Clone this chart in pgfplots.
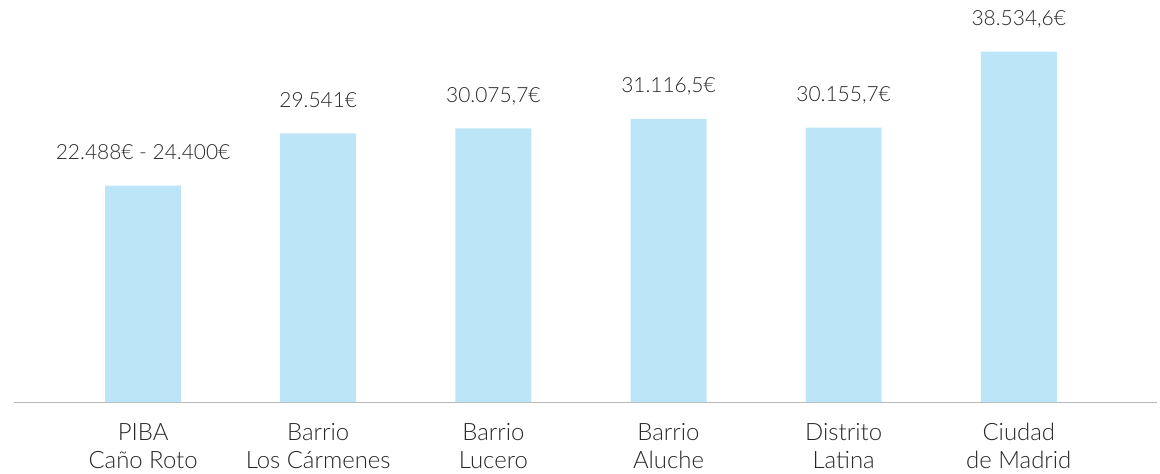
\documentclass[border=0pt]{standalone}
\usepackage{fontspec}
\IfFontExistsTF{Lato Light}{\setmainfont{Lato Light}}{\setmainfont{Lato}}
\usepackage{pgfplots}
\pgfplotsset{compat=1.18}
\definecolor{barblue}{RGB}{189,229,248}
\definecolor{txt}{RGB}{38,38,38}
\definecolor{axisgray}{RGB}{185,185,185}

\begin{document}
\begin{tikzpicture}
  \useasboundingbox (0,0) rectangle (1160bp,474bp);
  \begin{axis}[
    at={(14bp,72bp)}, anchor=south west,
    scale only axis,
    width=1143bp, height=402bp,
    xmin=-0.737, xmax=5.789,
    ymin=0, ymax=44200,
    axis x line=bottom, axis y line=none,
    x axis line style={draw=axisgray, line width=1bp, -},
    xtick=data,
    major tick length=0pt,
    xticklabels={{PIBA\\Caño Roto},{Barrio\\Los Cármenes},{Barrio\\Lucero},
                 {Barrio\\Aluche},{Distrito\\Latina},{Ciudad\\de Madrid}},
    xticklabel style={align=center, anchor=north, inner sep=0pt, yshift=-21bp,
                      font=\fontsize{24}{28}\selectfont, text=txt},
    ytick=\empty,
    clip=false,
  ]
    \addplot[ybar, bar width=76bp, fill=barblue, draw=none,
      point meta=explicit symbolic,
      nodes near coords,
      every node near coord/.append style={anchor=base, yshift=26bp, inner sep=0pt,
        font=\fontsize{21}{25}\selectfont, text=txt}]
      table[meta=label] {
        x y label
        0 23800 {22.488€ - 24.400€}
        1 29541 {29.541€}
        2 30075.7 {30.075,7€}
        3 31116.5 {31.116,5€}
        4 30155.7 {30.155,7€}
        5 38534.6 {38.534,6€}
      };
  \end{axis}
\end{tikzpicture}
\end{document}
